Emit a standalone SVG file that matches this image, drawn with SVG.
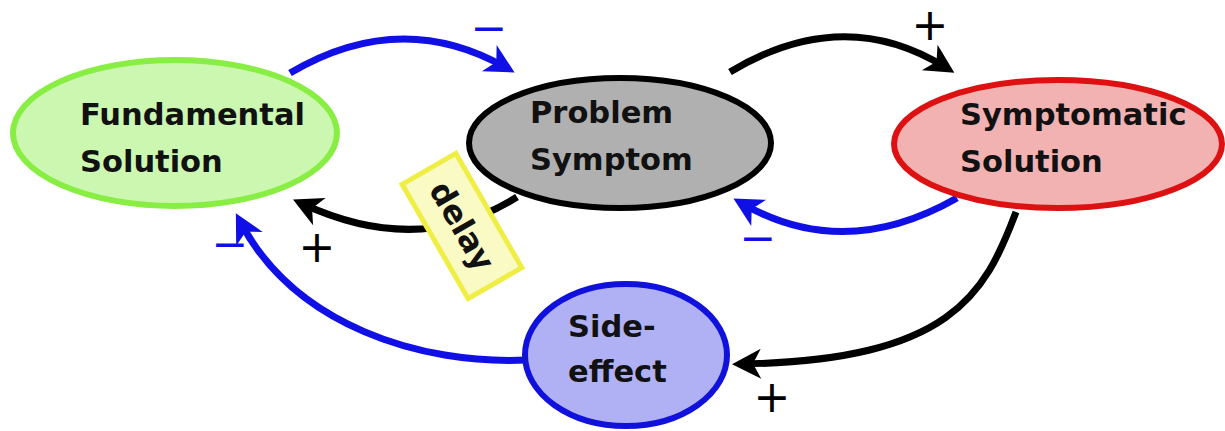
<svg xmlns="http://www.w3.org/2000/svg" width="1225" height="431" viewBox="0 0 1225 431">
<style>
.lbl{font-family:"DejaVu Sans","Liberation Sans",sans-serif;font-weight:bold;font-size:30.5px;fill:#111}
.edge{fill:none;stroke-width:7}
.blue{stroke:#1010e6}
.black{stroke:#000}
.sign{font-family:"DejaVu Sans","Liberation Sans",sans-serif;font-size:44px;text-anchor:middle}
</style>
<defs>
<marker id="ahBlack" markerUnits="userSpaceOnUse" markerWidth="44" markerHeight="44" viewBox="-32 -22 44 44" refX="0" refY="0" orient="auto">
<path d="M11,0 L-18,-15 L-10,0 L-18,15 Z" fill="#000"/>
</marker>
<marker id="ahBlue" markerUnits="userSpaceOnUse" markerWidth="44" markerHeight="44" viewBox="-32 -22 44 44" refX="0" refY="0" orient="auto">
<path d="M11,0 L-18,-15 L-10,0 L-18,15 Z" fill="#1010e6"/>
</marker>
</defs>
<g id="connectors">
<path class="edge blue" d="M290,73 Q400,8 505,67" marker-end="url(#ahBlue)"/>
<path class="edge black" d="M730,72 Q843,4 945,67" marker-end="url(#ahBlack)"/>
<path class="edge blue" d="M957,198 Q845,262 743,204" marker-end="url(#ahBlue)"/>
<path class="edge black" d="M517,197 Q420,258 303,204" marker-end="url(#ahBlack)"/>
<path class="edge black" d="M1016,212 C985,295 950,360 743,364" marker-end="url(#ahBlack)"/>
<path class="edge blue" d="M527,360 C420,365 295,325 241,223" marker-end="url(#ahBlue)"/>
<text class="sign" x="489" y="43" fill="#1010e6">−</text>
<text class="sign" x="930" y="40" fill="#000">+</text>
<text class="sign" x="758" y="253" fill="#1010e6">−</text>
<text class="sign" x="317" y="262" fill="#000">+</text>
<text class="sign" x="230" y="259" fill="#1010e6">−</text>
<text class="sign" x="772" y="412" fill="#000">+</text>
</g>
<g id="fundamental">
<ellipse cx="175" cy="133" rx="162" ry="73" fill="#ccf7b0" stroke="#88ee44" stroke-width="6"/>
<text class="lbl" x="80" y="125">Fundamental</text>
<text class="lbl" x="80" y="172">Solution</text>
</g>
<g id="problem">
<ellipse cx="620" cy="143" rx="151" ry="65" fill="#b0b0b0" stroke="#000" stroke-width="6"/>
<text class="lbl" x="530" y="123">Problem</text>
<text class="lbl" x="530" y="170">Symptom</text>
</g>
<g id="symptomatic">
<ellipse cx="1058" cy="144" rx="164" ry="64" fill="#f2b2b2" stroke="#dd1111" stroke-width="6"/>
<text class="lbl" x="960" y="125">Symptomatic</text>
<text class="lbl" x="960" y="172">Solution</text>
</g>
<g id="sideeffect">
<ellipse cx="626" cy="355" rx="101" ry="71" fill="#b0b0f5" stroke="#1111dd" stroke-width="6"/>
<text class="lbl" x="568" y="337">Side-</text>
<text class="lbl" x="568" y="382">effect</text>
</g>
<g id="delay" transform="translate(462,226) rotate(60)">
<rect x="-66" y="-31" width="132" height="62" fill="#fafac4" stroke="#eeee44" stroke-width="5"/>
<text class="lbl" x="0" y="11" text-anchor="middle" style="font-size:32px">delay</text>
</g>
</svg>
